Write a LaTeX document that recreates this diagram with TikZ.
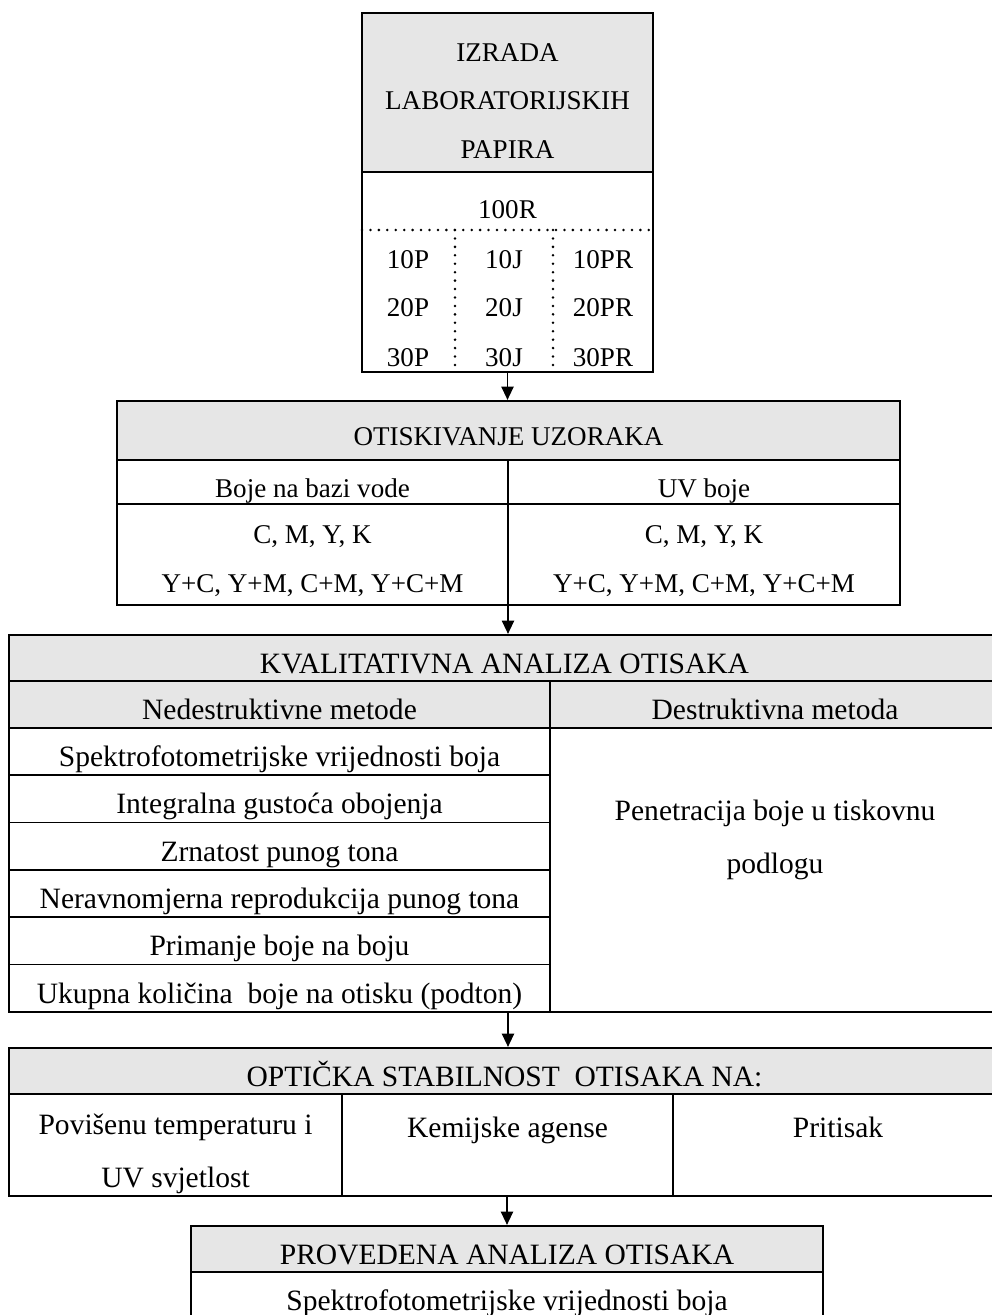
\documentclass[tikz,border=0pt]{standalone}
\usepackage{fontspec}
\setmainfont{Liberation Serif}
\usetikzlibrary{arrows.meta,fit}
\definecolor{headgray}{RGB}{230,230,230}
\newcommand{\fsA}{\fontsize{15.4}{27.8}\selectfont}
\newcommand{\fsB}{\fontsize{16.8}{30}\selectfont}
\tikzstyle{cell}=[rectangle, draw=black, line width=1pt, inner sep=0pt, outer sep=0pt]
\tikzstyle{cellrow}=[cell, text height=0.62cm, text depth=0.02cm]
\tikzstyle{headcell}=[cellrow, fill=headgray]
\tikzstyle{boxframe}=[rectangle, draw=black, line width=1.3pt, inner sep=0pt]
\tikzstyle{txt}=[inner sep=0pt]
\tikzstyle{txtrow}=[txt, text height=0.62cm, text depth=0.02cm]
\tikzstyle{dotline}=[line width=1.6pt, line cap=round, dash pattern=on 0pt off 4.8pt]
\tikzset{>={Triangle[width=7pt,length=7.5pt]}}

\begin{document}
\begin{tikzpicture}
        \useasboundingbox (0,0) rectangle (19.84,-26.3);

        % Izrada papira
        \node at (10.15,-1.85) [cell, fill=headgray, minimum width=5.82cm, minimum height=3.18cm] (topHead) {};
        \node at (10.15,-5.44) [cell, minimum width=5.82cm, minimum height=4cm] (topLow) {};
        \node at (10.15,-2.02) [txt, font=\fsA, align=center] (izrada) {IZRADA\\LABORATORIJSKIH\\PAPIRA};
        \node at (10.15,-4.2) [txt, font=\fsA] (ref) {100R};
        \draw [dotline] (topLow.west |- 0,-4.6) -- (topLow.east |- 0,-4.6);
        \foreach \x in {9.10,11.06}
          \draw [dotline] (\x,-4.6) -- (\x,-7.44);
        \foreach \c/\x/\s in {1/8.16/P,2/10.08/J,3/12.06/PR}
          \foreach \r/\y in {1/-5.2,2/-6.16,3/-7.16}
            \node at (\x,\y) [txt, font=\fsA] (smp_\c_\r) {\r0\s};
        \node [boxframe, fit=(topHead)(topLow)] (topbox) {};

        % Otiskivanje
        \node at (10.17,-8.61) [headcell, font=\fsA, minimum width=15.66cm, minimum height=1.18cm] (midHead) {OTISKIVANJE UZORAKA};
        \node at (6.25,-9.64) [cellrow, font=\fsA, minimum width=7.82cm, minimum height=0.88cm] (midL1) {Boje na bazi vode};
        \node at (14.08,-9.64) [cellrow, font=\fsA, minimum width=7.84cm, minimum height=0.88cm] (midR1) {UV boje};
        \node at (6.25,-11.09) [cell, minimum width=7.82cm, minimum height=2.02cm] (midL2) {};
        \node at (14.08,-11.09) [cell, minimum width=7.84cm, minimum height=2.02cm] (midR2) {};
        \node at (6.25,-11.22) [txt, font=\fsA, align=center] (vodaTxt) {C, M, Y, K\\Y+C, Y+M, C+M, Y+C+M};
        \node at (14.08,-11.22) [txt, font=\fsA, align=center] (uvTxt) {C, M, Y, K\\Y+C, Y+M, C+M, Y+C+M};
        \node [boxframe, fit=(midHead)(midL2)(midR2)] (midbox) {};

        % Kvalitativna analiza
        \node at (10.09,-13.16) [headcell, font=\fsB, minimum width=19.82cm, minimum height=0.92cm] (bigHead) {KVALITATIVNA ANALIZA OTISAKA};
        \node at (5.59,-14.09) [headcell, font=\fsB, minimum width=10.82cm, minimum height=0.94cm] (nedHead) {Nedestruktivne metode};
        \node at (15.5,-14.09) [headcell, font=\fsB, minimum width=9cm, minimum height=0.94cm] (desHead) {Destruktivna metoda};
        \foreach \t [count=\i] in {Spektrofotometrijske vrijednosti boja, Integralna gustoća obojenja, Zrnatost punog tona, Neravnomjerna reprodukcija punog tona, Primanje boje na boju, {Ukupna količina~ boje na otisku (podton)}}
          \node at (5.59,{-14.0833-0.9467*\i}) [cellrow, font=\fsB, minimum width=10.82cm, minimum height=0.9467cm] (ned_\i) {\t};
        \node at (15.5,-17.4) [cell, minimum width=9cm, minimum height=5.68cm] (desCell) {};
        \node at (15.5,-16.8) [txt, font=\fsB, align=center] (penetr) {Penetracija boje u tiskovnu\\podlogu};
        \node [boxframe, fit=(bigHead)(ned_6)(desCell)] (bigbox) {};

        % Opticka stabilnost
        \node at (10.09,-21.42) [headcell, font=\fsB, minimum width=19.82cm, minimum height=0.92cm] (optHead) {OPTIČKA STABILNOST~ OTISAKA NA:};
        \node at (3.51,-22.9) [cell, minimum width=6.66cm, minimum height=2.04cm] (optA) {};
        \node at (10.15,-22.9) [cell, minimum width=6.62cm, minimum height=2.04cm] (optB) {};
        \node at (16.73,-22.9) [cell, minimum width=6.54cm, minimum height=2.04cm] (optC) {};
        \node at (3.51,-23.08) [txt, font=\fsB, align=center] (povisenu) {Povišenu temperaturu i\\UV svjetlost};
        \node at (10.15,-22.45) [txtrow, font=\fsB] (kemijske) {Kemijske agense};
        \node at (16.76,-22.45) [txtrow, font=\fsB] (pritisak) {Pritisak};
        \node [boxframe, fit=(optHead)(optA)(optC)] (optbox) {};

        % Provedena analiza
        \node at (10.14,-24.98) [headcell, font=\fsB, minimum width=12.64cm, minimum height=0.92cm] (endHead) {PROVEDENA ANALIZA OTISAKA};
        \node at (10.14,-26.12) [cell, minimum width=12.64cm, minimum height=1.36cm] (endLow) {};
        \node at (10.14,-26.06) [txt, font=\fsB] (spektro) {Spektrofotometrijske vrijednosti boja};
        \node [boxframe, fit=(endHead)(endLow)] (endbox) {};

        % Arrows
        \draw [->, line width=0.6pt] (topbox.south) -- (topbox.south |- midbox.north);
        \draw [->, line width=0.6pt] (midL2.south east) -- (midL2.south east |- bigbox.north);
        \draw [->, line width=0.6pt] (bigbox.south -| midL2.south east) -- (optbox.north -| midL2.south east);
        \draw [->, line width=0.6pt] (optbox.south -| endbox.north) -- (endbox.north);
      \end{tikzpicture}
\end{document}
